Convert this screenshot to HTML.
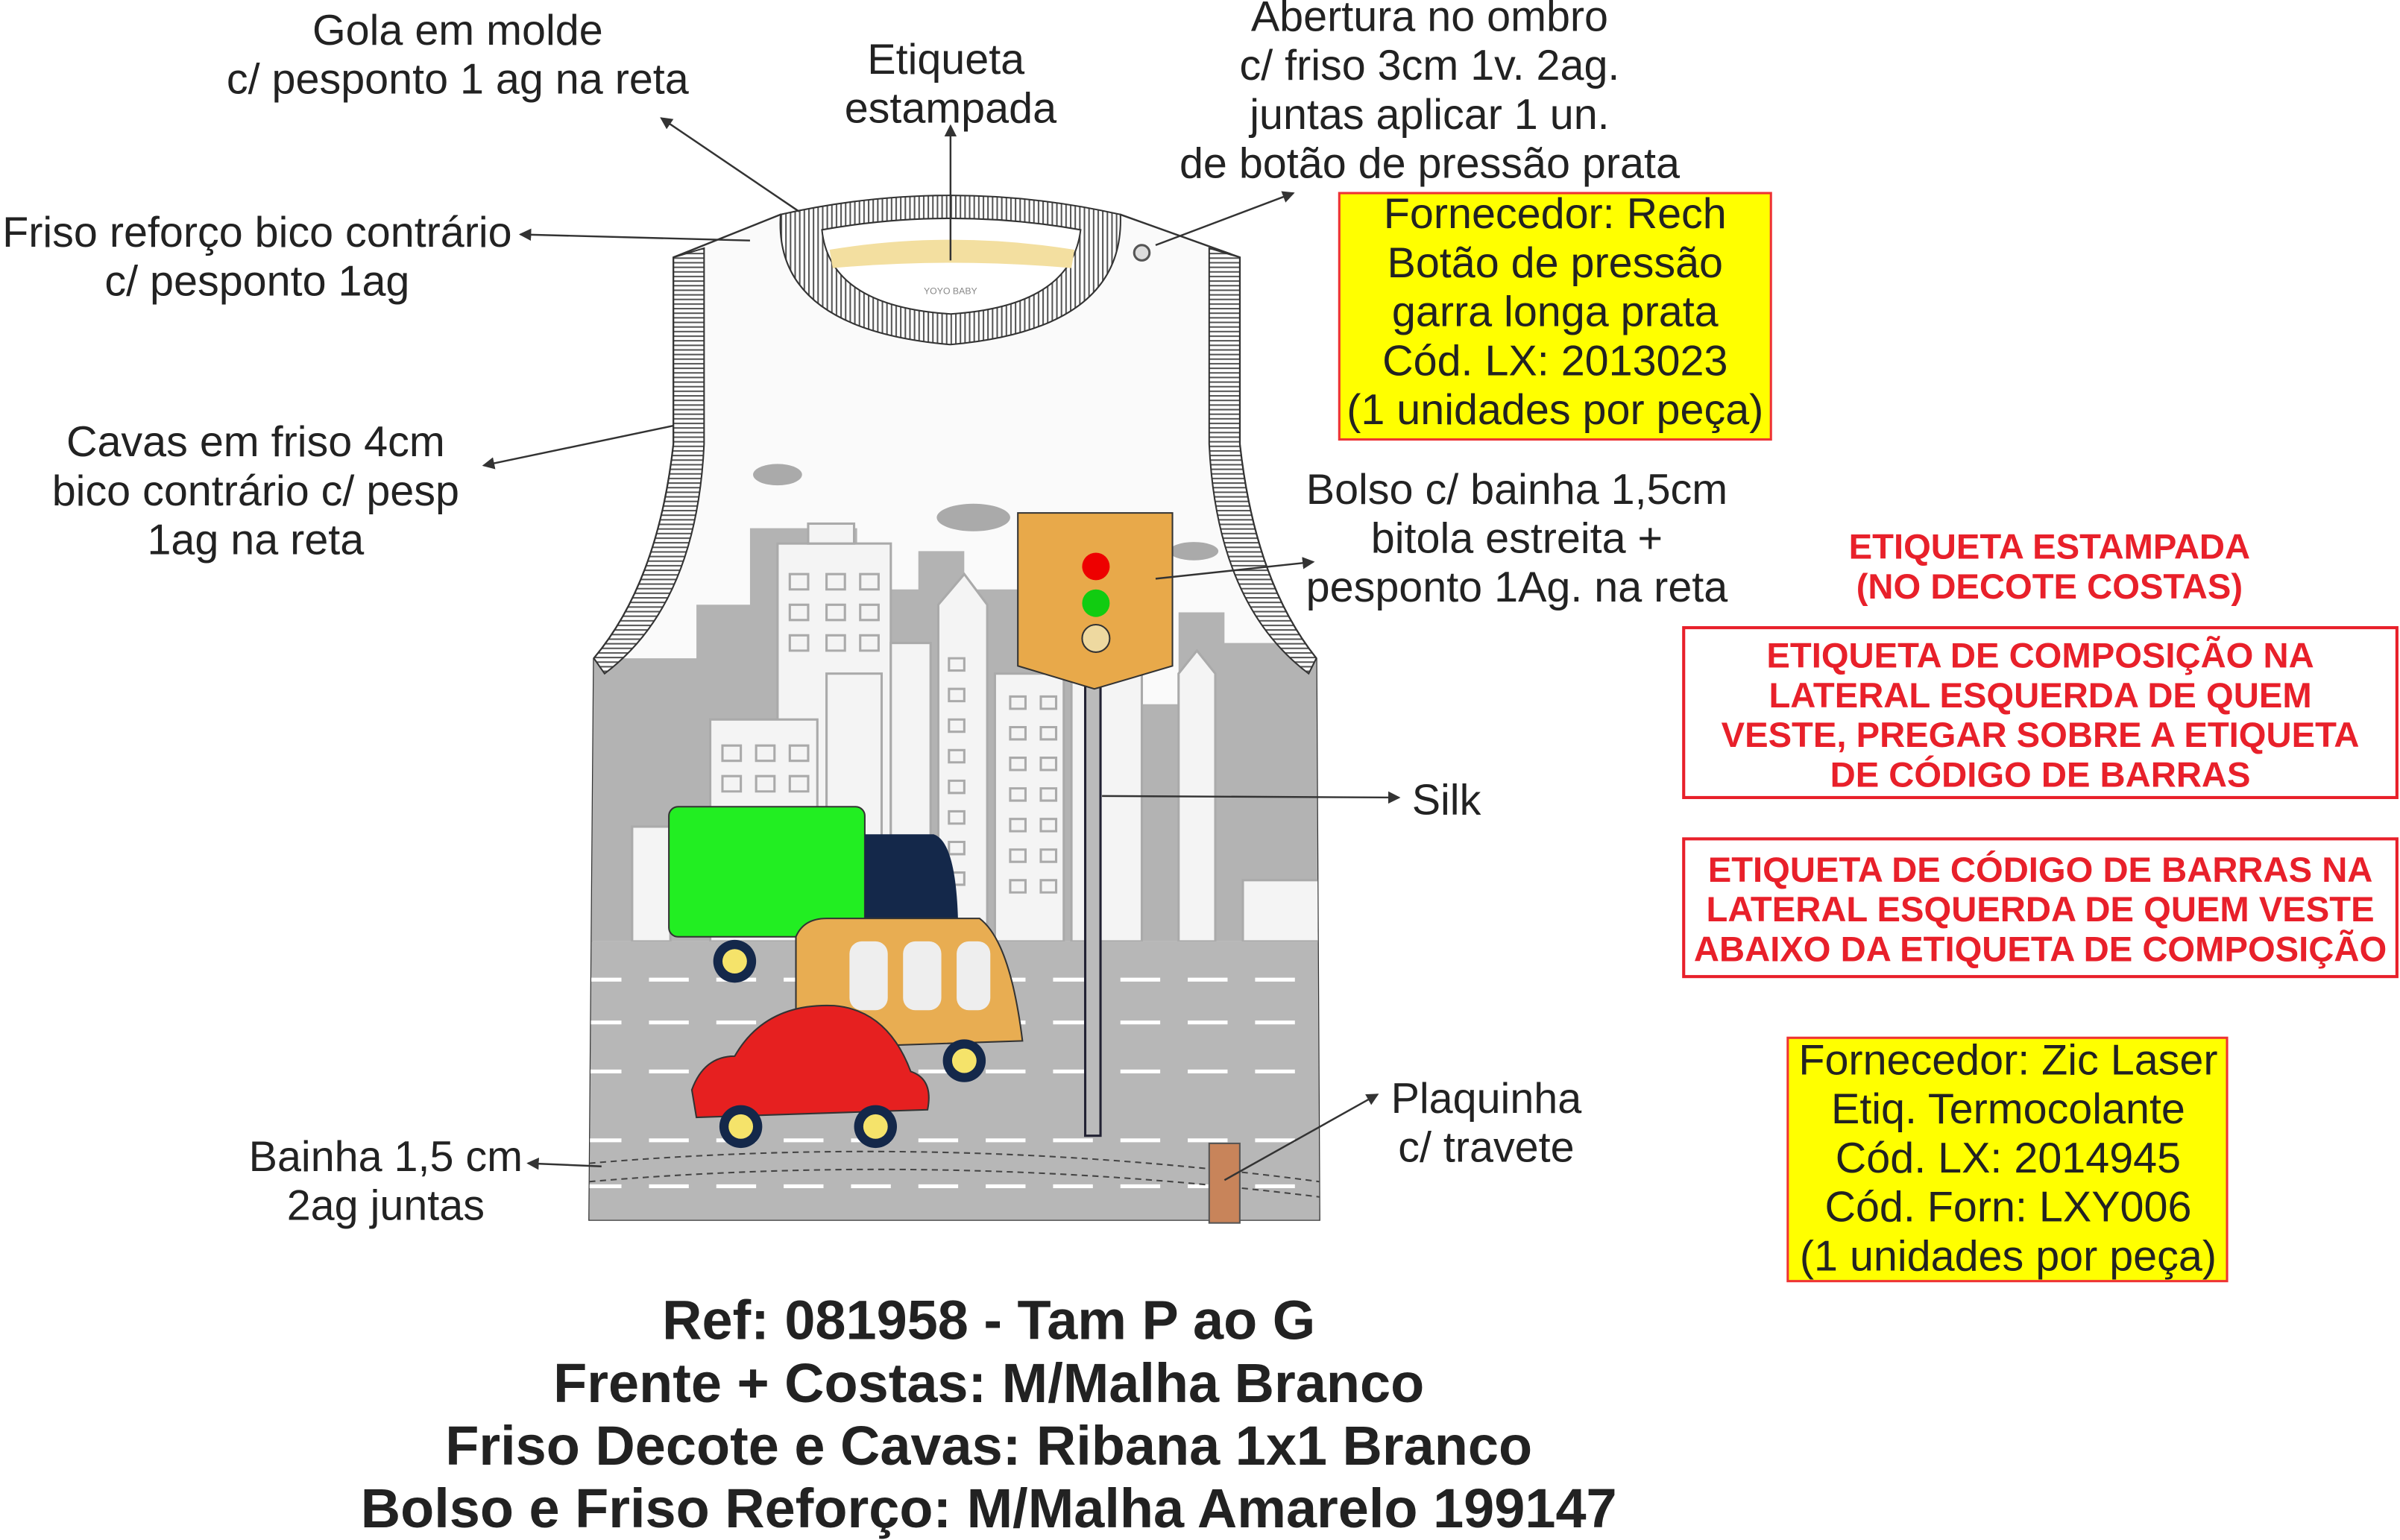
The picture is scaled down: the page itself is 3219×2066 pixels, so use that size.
<!DOCTYPE html>
<html><head><meta charset="utf-8"><style>
html,body{margin:0;padding:0;background:#fff;}
svg{display:block}
text{font-family:"Liberation Sans",Arial,sans-serif;}
</style></head><body>
<svg width="3219" height="2066" viewBox="0 0 1568 1006" xmlns="http://www.w3.org/2000/svg">
<defs>
<pattern id="rib" width="3" height="3" patternUnits="userSpaceOnUse"><rect width="3" height="3" fill="#fff"/><rect width="1" height="3" fill="#555"/></pattern>
<pattern id="ribh" width="3" height="3" patternUnits="userSpaceOnUse"><rect width="3" height="3" fill="#fff"/><rect width="3" height="1" fill="#555"/></pattern>
<marker id="ar" markerWidth="8" markerHeight="8" refX="7" refY="4" orient="auto" markerUnits="userSpaceOnUse"><path d="M0,0 L8,4 L0,8 z" fill="#333"/></marker>
<clipPath id="body"><path d="M388,430 Q430,380 440,290 L440,168 L510,140 Q621,180 732,140 L810,168 L810,290 Q820,380 860,430 L862,797 L385,797 Z"/></clipPath>
</defs>

<path d="M388,430 Q430,380 440,290 L440,168 L510,140 Q621,180 732,140 L810,168 L810,290 Q820,380 860,430 L862,797 L385,797 Z" fill="#fafafa" stroke="#333" stroke-width="1.2"/>
<g clip-path="url(#body)">
  <path d="M380,615 L380,430 L455,430 L455,395 L490,395 L490,345 L560,345 L560,385 L600,385 L600,360 L630,360 L630,385 L680,385 L680,420 L700,420 L700,460 L770,460 L770,400 L800,400 L800,420 L865,420 L865,615 Z" fill="#b3b3b3"/>
  <g fill="#f4f4f4" stroke="#aaa" stroke-width="1.5">
    <rect x="508" y="355" width="74" height="260"/>
    <rect x="528" y="342" width="30" height="13"/>
    <rect x="464" y="470" width="70" height="145"/>
    <rect x="540" y="440" width="36" height="175"/>
    <rect x="582" y="420" width="26" height="195"/>
    <path d="M613,615 L613,395 L630,375 L645,395 L645,615 Z"/>
    <rect x="650" y="440" width="45" height="175"/>
    <rect x="700" y="430" width="46" height="185"/>
    <path d="M770,615 L770,440 L782,425 L794,440 L794,615Z"/>
    <rect x="413" y="540" width="25" height="75"/>
    <rect x="812" y="575" width="50" height="40"/>
  </g>
  <g fill="none" stroke="#aaa" stroke-width="1.5">
    <path d="M516,375h12v10h-12zM540,375h12v10h-12zM562,375h12v10h-12zM516,395h12v10h-12zM540,395h12v10h-12zM562,395h12v10h-12zM516,415h12v10h-12zM540,415h12v10h-12zM562,415h12v10h-12zM472,487h12v10h-12zM494,487h12v10h-12zM516,487h12v10h-12zM472,507h12v10h-12zM494,507h12v10h-12zM516,507h12v10h-12z"/>
    <path d="M620,430h10v8h-10zM620,450h10v8h-10zM620,470h10v8h-10zM620,490h10v8h-10zM620,510h10v8h-10zM620,530h10v8h-10zM620,550h10v8h-10zM620,570h10v8h-10zM660,455h10v8h-10zM660,475h10v8h-10zM660,495h10v8h-10zM660,515h10v8h-10zM660,535h10v8h-10zM660,555h10v8h-10zM660,575h10v8h-10zM680,455h10v8h-10zM680,475h10v8h-10zM680,495h10v8h-10zM680,515h10v8h-10zM680,535h10v8h-10zM680,555h10v8h-10zM680,575h10v8h-10z"/>
  </g>
  <ellipse cx="508" cy="310" rx="16" ry="7" fill="#aaa"/><ellipse cx="636" cy="338" rx="24" ry="9" fill="#aaa"/><ellipse cx="780" cy="360" rx="16" ry="6" fill="#aaa"/>
  <rect x="380" y="615" width="490" height="190" fill="#b7b7b7"/>
  <g stroke="#fff" stroke-width="2.5" stroke-dasharray="26,18">
    <line x1="380" y1="640" x2="870" y2="640"/><line x1="380" y1="668" x2="870" y2="668"/><line x1="380" y1="700" x2="870" y2="700"/><line x1="380" y1="745" x2="870" y2="745"/><line x1="380" y1="775" x2="870" y2="775"/>
  </g>
  <path d="M385,760 Q620,740 862,772" stroke="#444" fill="none" stroke-dasharray="4,3"/>
  <path d="M385,772 Q620,752 862,782" stroke="#444" fill="none" stroke-dasharray="4,3"/>
</g>
<path d="M440,168 L460,162 L460,290 Q455,395 395,440 L388,430 Q430,380 440,290 Z" fill="url(#ribh)" stroke="#333"/>
<path d="M810,168 L790,162 L790,290 Q795,395 855,440 L860,430 Q820,380 810,290 Z" fill="url(#ribh)" stroke="#333"/>
<path d="M510,140 Q621,115 732,140 Q735,215 621,225 Q505,215 510,140 Z" fill="url(#rib)" stroke="#333"/>
<path d="M537,150 Q621,135 706,150 Q700,200 621,205 Q542,200 537,150 Z" fill="#fff" stroke="#333"/>
<path d="M542,163 Q621,150 702,163 L700,175 Q621,168 544,175 Z" fill="#f3dfa0"/>
<text x="621" y="192" font-size="6" fill="#888" text-anchor="middle">YOYO BABY</text>
<circle cx="746" cy="165" r="5" fill="#ddd" stroke="#555" stroke-width="1.5"/>
<rect x="709" y="440" width="10" height="302" fill="#bbb" stroke="#223" stroke-width="1.5"/>
<path d="M665,335 L766,335 L766,435 L715,450 L665,435 Z" fill="#e8a94a" stroke="#333"/>
<circle cx="716" cy="370" r="9" fill="#e00"/><circle cx="716" cy="394" r="9" fill="#1c1"/><circle cx="716" cy="417" r="9" fill="#eed9a0" stroke="#333"/>
<rect x="437" y="527" width="128" height="85" rx="6" fill="#22ee22" stroke="#333"/>
<path d="M565,545 L610,545 Q625,550 626,605 L565,610 Z" fill="#14284a"/>
<circle cx="480" cy="628" r="14" fill="#14284a"/><circle cx="480" cy="628" r="8" fill="#f5e36a"/>
<path d="M520,612 Q525,600 540,600 L640,600 Q660,615 668,680 L520,685 Z" fill="#e8ad52" stroke="#333"/>
<rect x="555" y="615" width="25" height="45" rx="8" fill="#eee"/><rect x="590" y="615" width="25" height="45" rx="8" fill="#eee"/><rect x="625" y="615" width="22" height="45" rx="8" fill="#eee"/>
<circle cx="630" cy="693" r="14" fill="#14284a"/><circle cx="630" cy="693" r="8" fill="#f5e36a"/>
<path d="M452,712 Q460,690 480,690 Q500,655 545,657 Q580,660 595,700 Q610,705 606,725 L455,730 Z" fill="#e62020" stroke="#333"/>
<circle cx="484" cy="736" r="14" fill="#14284a"/><circle cx="484" cy="736" r="8" fill="#f5e36a"/>
<circle cx="572" cy="736" r="14" fill="#14284a"/><circle cx="572" cy="736" r="8" fill="#f5e36a"/>
<rect x="790" y="747" width="20" height="52" fill="#c8845a" stroke="#555"/>

<g stroke="#333" stroke-width="1.2" fill="none" marker-end="url(#ar)">
<line x1="522" y1="138" x2="432" y2="77"/>
<line x1="621" y1="170" x2="621" y2="82"/>
<line x1="755" y1="160" x2="845" y2="126"/>
<line x1="490" y1="157" x2="340" y2="153"/>
<line x1="440" y1="278" x2="316" y2="304"/>
<line x1="755" y1="378" x2="858" y2="367"/>
<line x1="720" y1="520" x2="914" y2="521"/>
<line x1="800" y1="771" x2="900" y2="715"/>
<line x1="393" y1="762" x2="345" y2="760"/>
</g>

<g font-size="28" fill="#222" text-anchor="middle">
<text x="299" y="29">Gola em molde</text><text x="299" y="61">c/ pesponto 1 ag na reta</text>
<text x="618" y="48">Etiqueta</text><text x="621" y="80">estampada</text>
<text x="934" y="20">Abertura no ombro</text><text x="934" y="52">c/ friso 3cm 1v. 2ag.</text><text x="934" y="84">juntas aplicar 1 un.</text><text x="934" y="116">de botão de pressão prata</text>
<text x="168" y="161">Friso reforço bico contrário</text><text x="168" y="193">c/ pesponto 1ag</text>
<text x="167" y="298">Cavas em friso 4cm</text><text x="167" y="330">bico contrário c/ pesp</text><text x="167" y="362">1ag na reta</text>
<text x="991" y="329">Bolso c/ bainha 1,5cm</text><text x="991" y="361">bitola estreita +</text><text x="991" y="393">pesponto 1Ag. na reta</text>
<text x="945" y="532">Silk</text>
<text x="971" y="727">Plaquinha</text><text x="971" y="759">c/ travete</text>
<text x="252" y="765">Bainha 1,5 cm</text><text x="252" y="797">2ag juntas</text>
</g>

<rect x="875" y="126" width="282" height="161" fill="#ffff00" stroke="#e33" stroke-width="1.5"/>
<g font-size="28" fill="#222" text-anchor="middle">
<text x="1016" y="149">Fornecedor: Rech</text><text x="1016" y="181">Botão de pressão</text><text x="1016" y="213">garra longa prata</text><text x="1016" y="245">Cód. LX: 2013023</text><text x="1016" y="277">(1 unidades por peça)</text>
</g>
<rect x="1168" y="678" width="287" height="159" fill="#ffff00" stroke="#e33" stroke-width="1.5"/>
<g font-size="28" fill="#222" text-anchor="middle">
<text x="1312" y="702">Fornecedor: Zic Laser</text><text x="1312" y="734">Etiq. Termocolante</text><text x="1312" y="766">Cód. LX: 2014945</text><text x="1312" y="798">Cód. Forn: LXY006</text><text x="1312" y="830">(1 unidades por peça)</text>
</g>

<g font-size="23" font-weight="bold" fill="#e8202a" text-anchor="middle">
<text x="1339" y="365">ETIQUETA ESTAMPADA</text><text x="1339" y="391">(NO DECOTE COSTAS)</text>
<text x="1333" y="436">ETIQUETA DE COMPOSIÇÃO NA</text><text x="1333" y="462">LATERAL ESQUERDA DE QUEM</text><text x="1333" y="488">VESTE, PREGAR SOBRE A ETIQUETA</text><text x="1333" y="514">DE CÓDIGO DE BARRAS</text>
<text x="1333" y="576">ETIQUETA DE CÓDIGO DE BARRAS NA</text><text x="1333" y="602">LATERAL ESQUERDA DE QUEM VESTE</text><text x="1333" y="628">ABAIXO DA ETIQUETA DE COMPOSIÇÃO</text>
</g>
<rect x="1100" y="410" width="466" height="111" fill="none" stroke="#e8202a" stroke-width="2"/>
<rect x="1100" y="548" width="466" height="90" fill="none" stroke="#e8202a" stroke-width="2"/>

<g font-size="36" font-weight="bold" fill="#222" text-anchor="middle">
<text x="646" y="875">Ref: 081958 - Tam P ao G</text>
<text x="646" y="916">Frente + Costas: M/Malha Branco</text>
<text x="646" y="957">Friso Decote e Cavas: Ribana 1x1 Branco</text>
<text x="646" y="998">Bolso e Friso Reforço: M/Malha Amarelo 199147</text>
</g>
</svg>
</body></html>
